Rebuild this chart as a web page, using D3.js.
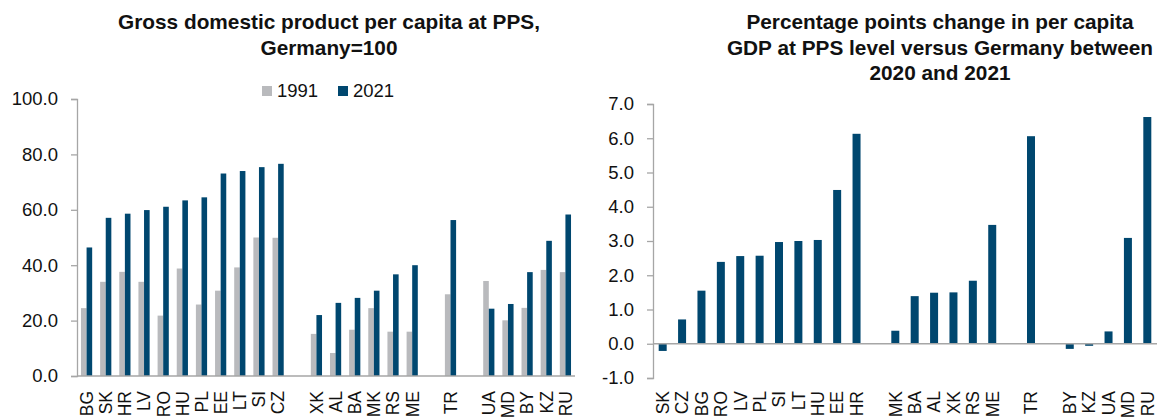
<!DOCTYPE html>
<html>
<head>
<meta charset="utf-8">
<script src="https://cdn.jsdelivr.net/npm/d3@7"></script>
<style>
  body { margin: 0; background: #fff; }
  svg { display: block; font-family: Arial, "Liberation Sans", sans-serif; }
</style>
</head>
<body>
<svg id="chart" width="1163" height="419"></svg>
<script>
'use strict';

// categories of the left chart, "" = empty slot between the country groups
var pays1 = ["BG", "SK", "HR", "LV", "RO", "HU", "PL", "EE", "LT", "SI", "CZ", "",
  "XK", "AL", "BA", "MK", "RS", "ME", "", "TR", "", "UA", "MD", "BY", "KZ", "RU"];
var gdp1991 = [24.5, 34.0, 37.6, 34.0, 21.8, 38.8, 25.8, 30.8, 39.2, 50.0, 49.9, null,
  15.2, 8.3, 16.7, 24.5, 16.0, 16.0, null, 29.5, null, 34.3, 20.1, 24.6, 38.3, 37.5];
var gdp2021 = [46.4, 57.1, 58.6, 59.9, 61.1, 63.4, 64.5, 73.1, 74.0, 75.4, 76.6, null,
  22.0, 26.4, 28.2, 30.8, 36.7, 40.0, null, 56.3, null, 24.3, 26.0, 37.5, 48.8, 58.3];
var ticks1 = [0, 20, 40, 60, 80, 100];
var series1 = ["1991", "2021"];

// right chart, change 2020 -> 2021
var pays2 = ["SK", "CZ", "BG", "RO", "LV", "PL", "SI", "LT", "HU", "EE", "HR", "",
  "MK", "BA", "AL", "XK", "RS", "ME", "", "TR", "", "BY", "KZ", "UA", "MD", "RU"];
var variation = [-0.21, 0.71, 1.55, 2.39, 2.56, 2.57, 2.97, 3.0, 3.03, 4.49, 6.13, null,
  0.38, 1.39, 1.49, 1.50, 1.84, 3.47, null, 6.06, null, -0.15, -0.06, 0.36, 3.09, 6.62];
var ticks2 = [-1, 0, 1, 2, 3, 4, 5, 6, 7];

var titre1 = ["Gross domestic product per capita at PPS,", "Germany=100"];
var titre2 = ["Percentage points change in per capita",
  "GDP at PPS level versus Germany between", "2020 and 2021"];

var gris = "#b9babd";
var bleu = "#00476f";
var axeCouleur = "#a6a6a6";
var texteCouleur = "#111";

var svg = d3.select("#chart");

// titre centré sur plusieurs lignes
function dessineTitre(lignes, cx) {
  svg.append("text")
    .attr("x", cx)
    .attr("y", 29)
    .attr("text-anchor", "middle")
    .attr("font-size", 20.8)
    .attr("font-weight", "bold")
    .attr("fill", texteCouleur)
    .selectAll("tspan")
    .data(lignes)
    .enter()
    .append("tspan")
    .attr("x", cx)
    .attr("dy", function (d, i) { return i === 0 ? 0 : 25.5; })
    .text(function (d) { return d; });
}

// axe vertical avec ticks à gauche
function dessineAxeY(g, y, valeurs) {
  var axe = d3.axisLeft(y)
    .tickValues(valeurs)
    .tickSize(6)
    .tickPadding(13)
    .tickFormat(function (d) { return d.toFixed(1); });
  g.call(axe);
  g.select(".domain").attr("stroke", axeCouleur).attr("stroke-width", 1.3);
  g.selectAll(".tick line").attr("stroke", axeCouleur).attr("stroke-width", 1.3);
  g.selectAll(".tick text")
    .attr("font-size", 18.5)
    .attr("font-family", "Arial, 'Liberation Sans', sans-serif")
    .attr("fill", texteCouleur);
}

// étiquettes des pays, tournées
function dessineEtiquettes(g, x, pays, yHaut) {
  g.selectAll("text.pays")
    .data(pays)
    .enter()
    .append("text")
    .attr("class", "pays")
    .attr("transform", function (d, i) {
      return "translate(" + (x(i) + x.bandwidth() / 2) + "," + yHaut + ") rotate(-90)";
    })
    .attr("text-anchor", "end")
    .attr("dy", "0.36em")
    .attr("font-size", 17.5)
    .attr("fill", texteCouleur)
    .text(function (d) { return d; });
}

/* ---------- graphique de gauche ---------- */
var g1 = svg.append("g");
var x1 = d3.scaleBand().domain(d3.range(pays1.length)).range([77, 575]).padding(0);
var y1 = d3.scaleLinear().domain([0, 100]).range([376, 99]);
var largeur1 = 5.6;

dessineTitre(titre1, 329);

dessineAxeY(g1.append("g").attr("transform", "translate(77,0)"), y1, ticks1);

gdp1991.forEach(function (v, i) {
  if (v === null) return;
  var cx = x1(i) + x1.bandwidth() / 2;
  g1.append("rect")
    .attr("x", cx - largeur1)
    .attr("y", y1(v))
    .attr("width", largeur1)
    .attr("height", y1(0) - y1(v))
    .attr("fill", gris);
});

gdp2021.forEach(function (v, i) {
  if (v === null) return;
  var cx = x1(i) + x1.bandwidth() / 2;
  g1.append("rect")
    .attr("x", cx)
    .attr("y", y1(v))
    .attr("width", largeur1)
    .attr("height", y1(0) - y1(v))
    .attr("fill", bleu);
});

// ligne de base
g1.append("line")
  .attr("x1", 77).attr("x2", 575)
  .attr("y1", y1(0)).attr("y2", y1(0))
  .attr("stroke", axeCouleur).attr("stroke-width", 1.3);

dessineEtiquettes(g1, x1, pays1, 391);

// légende
var legende = g1.append("g").selectAll("g")
  .data(series1)
  .enter()
  .append("g")
  .attr("transform", function (d, i) { return "translate(" + (262 + i * 76) + ",86)"; });
legende.append("rect")
  .attr("width", 10).attr("height", 10)
  .attr("fill", function (d, i) { return i === 0 ? gris : bleu; });
legende.append("text")
  .attr("x", 15).attr("y", 11)
  .attr("font-size", 18.5)
  .attr("fill", texteCouleur)
  .text(function (d) { return d; });

/* ---------- graphique de droite ---------- */
var g2 = svg.append("g");
var x2 = d3.scaleBand().domain(d3.range(pays2.length)).range([653, 1157]).padding(0);
var y2 = d3.scaleLinear().domain([-1, 7]).range([378, 104]);
var largeur2 = 8;

dessineTitre(titre2, 940);

dessineAxeY(g2.append("g").attr("transform", "translate(653,0)"), y2, ticks2);

variation.forEach(function (v, i) {
  if (v === null) return;
  var cx = x2(i) + x2.bandwidth() / 2;
  g2.append("rect")
    .attr("x", cx - largeur2 / 2)
    .attr("y", y2(Math.max(0, v)))
    .attr("width", largeur2)
    .attr("height", Math.abs(y2(v) - y2(0)))
    .attr("fill", bleu);
});

// ligne du zéro
g2.append("line")
  .attr("x1", 653).attr("x2", 1157)
  .attr("y1", y2(0)).attr("y2", y2(0))
  .attr("stroke", axeCouleur).attr("stroke-width", 1.3);

dessineEtiquettes(g2, x2, pays2, 391);
</script>
</body>
</html>
